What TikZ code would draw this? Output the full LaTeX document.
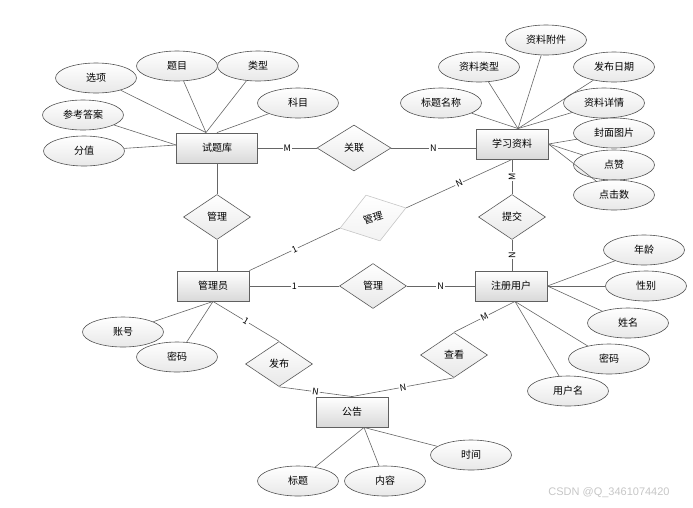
\documentclass[tikz,border=0pt]{standalone}
\usepackage{fontspec}
\setmainfont{Noto Sans CJK SC}
\newfontfamily\wmfont{Liberation Sans}
\usepackage{tikz}
\usetikzlibrary{shapes.geometric, calc}
\definecolor{linegray}{HTML}{666666}

\begin{document}
\begin{tikzpicture}
            [x=1pt, y=-1pt, font=\fontsize{10pt}{12pt}\selectfont,
            entity/.style={rectangle, draw=gray!75!black, line width=0.9pt, top color=white, bottom color=gray!30, minimum width=72pt, minimum height=30pt, inner sep=0pt},
            attr/.style={ellipse, draw=gray!65!black, line width=0.6pt, top color=white, bottom color=gray!18, minimum width=81pt, minimum height=30pt, inner sep=0pt},
            rel/.style={diamond, draw=gray!70!black, line width=0.6pt, top color=white, bottom color=gray!18, minimum width=67pt, minimum height=45pt, inner sep=0pt},
            card/.style={fill=white, inner sep=1pt, font=\fontsize{9pt}{10pt}\selectfont},
            every edge/.append style={draw=linegray, line width=0.6pt}]

            \useasboundingbox (0,0) rectangle (693,507);

            \node[entity, minimum width=81pt] (stk) at (217,148) {试题库};
            \node[entity] (xxzl) at (512,144) {学习资料};
            \node[entity] (gly) at (213,286) {管理员};
            \node[entity] (zcyh) at (511,286) {注册用户};
            \node[entity] (gg) at (352,412) {公告};

            \node[rel, minimum width=74pt, minimum height=46pt] (gl) at (354,148) {关联};
            \node[rel] (gl1) at (217,217) {管理};
            \node[rel, draw=gray!45, bottom color=gray!10, minimum width=69pt, minimum height=48pt, rotate=17] (gl2) at (373,218) {管理};
            \node[rel] (tj) at (512,217) {提交};
            \node[rel] (gl3) at (373,286) {管理};
            \node[rel] (fb) at (279,364) {发布};
            \node[rel] (ck) at (454,355) {查看};

            \node[attr] (xx) at (96,78) {选项};
            \node[attr] (tm) at (177,66) {题目};
            \node[attr] (lx) at (258,66) {类型};
            \node[attr] (km) at (298,103) {科目};
            \node[attr] (ckda) at (83,115) {参考答案};
            \node[attr] (fz) at (84,151) {分值};

            \node[attr] (zlfj) at (546,40) {资料附件};
            \node[attr] (zllx) at (479,67) {资料类型};
            \node[attr] (fbrq) at (614,67) {发布日期};
            \node[attr] (btmc) at (441,103) {标题名称};
            \node[attr] (zlxq) at (604,103) {资料详情};
            \node[attr] (fmtp) at (614,133) {封面图片};
            \node[attr] (dz) at (614,165) {点赞};
            \node[attr] (djs) at (614,195) {点击数};

            \node[attr] (nl) at (644,250) {年龄};
            \node[attr] (xb) at (646,286) {性别};
            \node[attr] (xm) at (628,323) {姓名};
            \node[attr] (mm) at (609,359) {密码};
            \node[attr] (yhm) at (568,391) {用户名};

            \node[attr] (zh) at (123,332) {账号};
            \node[attr] (glmm) at (177,357) {密码};

            \node[attr] (bt) at (298,481) {标题};
            \node[attr] (nr) at (385,481) {内容};
            \node[attr] (sj) at (471,455) {时间};

            \node[text=gray!45, font=\wmfont\fontsize{11pt}{13pt}\selectfont] (wm) at (609,493) {CSDN @Q\_3461074420};

            \coordinate (stk-t) at ([xshift=-11pt]stk.north);
            \coordinate (stk-l) at ([yshift=3pt]stk.west);
            \coordinate (xxzl-t) at ([xshift=6pt]xxzl.north);
            \coordinate (zcyh-b) at ([xshift=4pt]zcyh.south);
            \coordinate (gg-b) at ([xshift=12pt]gg.south);

            \draw (xx) edge (stk-t);
            \draw (tm) edge (stk-t);
            \draw (lx) edge (stk-t);
            \draw (km) edge (stk.north);
            \draw (ckda) edge (stk-l);
            \draw (fz) edge (stk-l);

            \draw (btmc) edge (xxzl-t);
            \draw (zllx) edge (xxzl-t);
            \draw (zlfj) edge (xxzl-t);
            \draw (fbrq) edge (xxzl-t);
            \draw (zlxq) edge (xxzl-t);
            \draw (fmtp) edge (xxzl.east);
            \draw (dz) edge (xxzl.east);
            \draw (djs) edge (xxzl.east);

            \draw (nl) edge (zcyh.east);
            \draw (xb) edge (zcyh.east);
            \draw (xm) edge (zcyh.east);
            \draw (mm) edge (zcyh-b);
            \draw (yhm) edge (zcyh-b);

            \draw (zh) edge (gly.south);
            \draw (glmm) edge (gly.south);

            \draw (bt) edge (gg-b);
            \draw (nr) edge (gg-b);
            \draw (sj) edge (gg-b);

            \draw (stk.east) edge node[card] {M} (gl.west);
            \draw (gl.east) edge node[card] {N} (gl.east -| xxzl.west);
            \draw (stk.south) edge (gl1.north);
            \draw (gl1.south) edge (gl1.south |- gly.north);
            \draw (gly.north east) edge node[card, sloped] {1} (gl2.west);
            \draw (gl2.east) edge node[card, sloped] {N} (xxzl.south);
            \draw (xxzl.south) edge node[card, rotate=90] {M} (tj.north);
            \draw (tj.south) edge node[card, rotate=90] {N} (tj.south |- zcyh.north);
            \draw (gly.east) edge node[card] {1} (gl3.west);
            \draw (gl3.east) edge node[card] {N} (zcyh.west);
            \draw (gly.south) edge node[card, sloped] {1} (fb.north);
            \draw (fb.south) edge node[card, sloped] {N} (gg.north);
            \draw (ck.south) edge node[card, sloped] {N} (gg.north);
            \draw (ck.north) edge node[card, sloped] {M} (zcyh-b);
        \end{tikzpicture}
\end{document}
